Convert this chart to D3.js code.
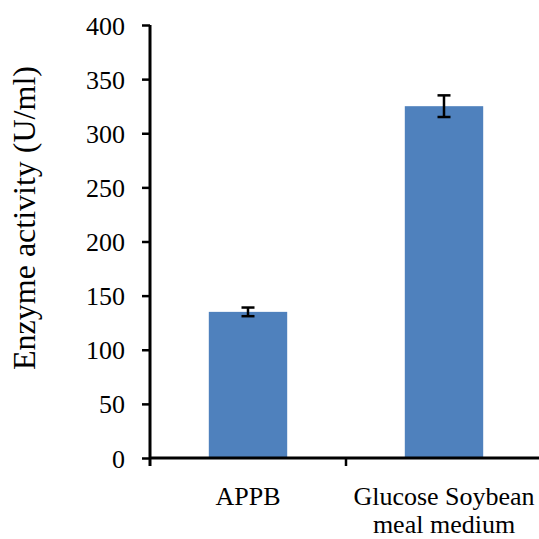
<!DOCTYPE html>
<html>
<head>
<meta charset="utf-8">
<script src="https://cdn.jsdelivr.net/npm/d3@7"></script>
<style>
  body { margin: 0; background: #fff; }
  text { font-family: "Liberation Serif", "Times New Roman", serif; fill: #000; }
</style>
</head>
<body>
<div id="main"></div>
<script>
const ctx = { w: 539, h: 539 };
const margin = { top: 25, right: -3, bottom: 81, left: 150 };

// data
const categories = ['APPB', 'Glucose Soybean\nmeal medium'];
const values = [135, 325];
const errors = [4, 10];
const yTicks = [0, 50, 100, 150, 200, 250, 300, 350, 400];

const innerW = ctx.w - margin.left - margin.right;
const innerH = ctx.h - margin.top - margin.bottom;

const svg = d3.select("#main").append("svg")
    .attr("width", ctx.w)
    .attr("height", ctx.h);

const g = svg.append("g")
    .attr("transform", `translate(${margin.left},${margin.top})`);

const x = d3.scaleBand()
    .domain(categories)
    .range([0, innerW])
    .paddingInner(0.6)
    .paddingOuter(0.3);

const y = d3.scaleLinear()
    .domain([0, 400])
    .range([innerH, 0]);

// bars
g.selectAll(".bar")
    .data(values)
    .enter().append("rect")
    .attr("class", "bar")
    .attr("x", (d, i) => x(categories[i]))
    .attr("y", d => y(d))
    .attr("width", x.bandwidth())
    .attr("height", d => y(0) - y(d))
    .attr("fill", "#4f81bd");

// error bars
const eb = g.selectAll(".err")
    .data(values)
    .enter().append("g")
    .attr("class", "err")
    .attr("stroke", "#000")
    .attr("stroke-width", 2.5);
eb.append("line")
    .attr("x1", (d, i) => x(categories[i]) + x.bandwidth() / 2)
    .attr("x2", (d, i) => x(categories[i]) + x.bandwidth() / 2)
    .attr("y1", (d, i) => y(d + errors[i]))
    .attr("y2", (d, i) => y(d - errors[i]));
[1, -1].forEach(s => {
    eb.append("line")
        .attr("x1", (d, i) => x(categories[i]) + x.bandwidth() / 2 - 6.5)
        .attr("x2", (d, i) => x(categories[i]) + x.bandwidth() / 2 + 6.5)
        .attr("y1", (d, i) => y(d + s * errors[i]))
        .attr("y2", (d, i) => y(d + s * errors[i]));
});

// y axis
const yAxis = g.append("g")
    .call(d3.axisLeft(y).tickValues(yTicks).tickSize(8).tickPadding(17));
yAxis.select(".domain").attr("stroke-width", 3).attr("d", `M0,${innerH + 8}V0`);
yAxis.selectAll(".tick line").attr("stroke-width", 2.5).attr("x2", 0).attr("x1", -8);
yAxis.selectAll(".tick text")
    .style("font-size", "26px")
    .attr("dy", "0.35em");

// x axis with ticks at band boundaries
const xAxis = g.append("g")
    .attr("transform", `translate(0,${innerH})`);
xAxis.append("line")
    .attr("x1", 0).attr("x2", innerW)
    .attr("stroke", "#000").attr("stroke-width", 3);
const step = x.step();
xAxis.selectAll(".xt")
    .data(categories.slice(1))
    .enter().append("line")
    .attr("x1", d => x(d) - (step - x.bandwidth()) / 2)
    .attr("x2", d => x(d) - (step - x.bandwidth()) / 2)
    .attr("y1", 0).attr("y2", 8)
    .attr("stroke", "#000").attr("stroke-width", 2.5);

const lbl = xAxis.selectAll(".xl")
    .data(categories)
    .enter().append("text")
    .attr("text-anchor", "middle")
    .style("font-size", "26px")
    .attr("transform", d => `translate(${x(d) + x.bandwidth() / 2},47)`);
lbl.selectAll("tspan")
    .data(d => d.split("\n"))
    .enter().append("tspan")
    .attr("x", 0)
    .attr("dy", (d, i) => i === 0 ? 0 : 28)
    .text(d => d);

// y axis title
svg.append("text")
    .attr("text-anchor", "middle")
    .attr("transform", `translate(35,218) rotate(-90)`)
    .style("font-size", "32px")
    .text("Enzyme activity (U/ml)");
</script>
</body>
</html>
